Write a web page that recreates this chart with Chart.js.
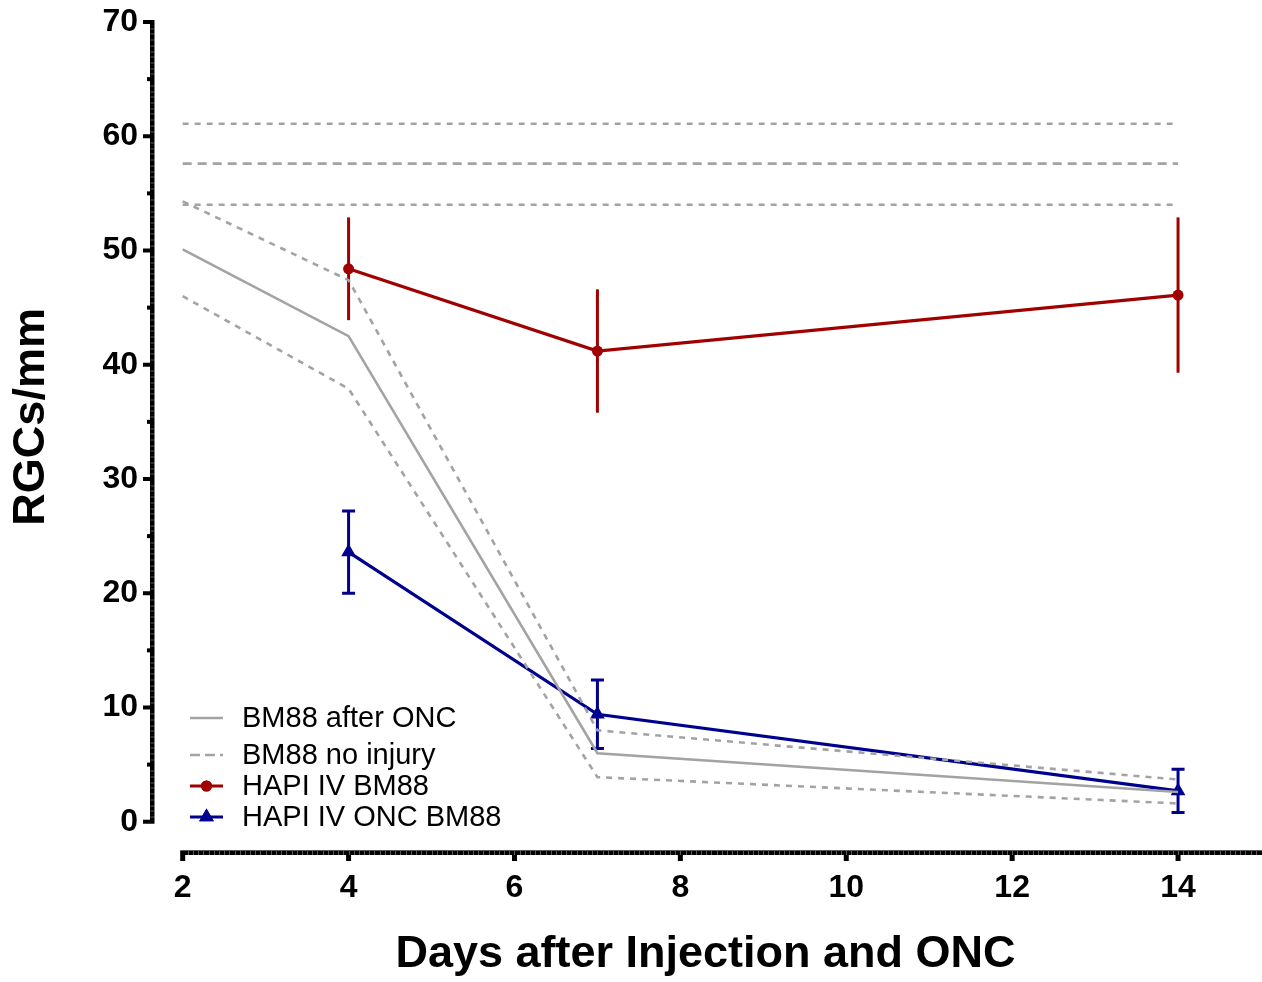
<!DOCTYPE html>
<html>
<head>
<meta charset="utf-8">
<title>RGCs/mm</title>
<script src="https://cdn.jsdelivr.net/npm/chart.js@4.4.1/dist/chart.umd.min.js"></script>
<style>
  html, body { margin: 0; padding: 0; background: #ffffff; overflow: hidden; }
  #chart { display: block; }
</style>
</head>
<body>
<canvas id="chart" width="1262" height="982"></canvas>
<script>
// ---- data ----
const days = [2, 4, 7, 14];
const afterOncMean  = [50.1, 42.5, 6.0, 2.6];
const afterOncUpper = [54.3, 47.4, 8.0, 3.7];
const afterOncLower = [46.0, 37.9, 3.9, 1.6];

const noInjuryDays  = [2, 14];
const noInjuryMean  = [57.6, 57.6];
const noInjuryUpper = [61.1, 61.1];
const noInjuryLower = [54.0, 54.0];

const hapiDays      = [4, 7, 14];
const hapiMean      = [48.4, 41.2, 46.1];
const hapiErr       = [4.5, 5.4, 6.8];
const hapiOncMean   = [23.6, 9.4, 2.7];
const hapiOncErr    = [3.6, 3.0, 1.9];

const xTickValues = [2, 4, 6, 8, 10, 12, 14];
const yTickValues = [0, 10, 20, 30, 40, 50, 60, 70];

// ---- styles ----
const FONT = '"Liberation Sans", Arial, Helvetica, sans-serif';
const GRAY = '#a3a3a3';
const RED = '#a10000';
const BLUE = '#00008f';
const SHORT_DASH = [6, 6];
const LONG_DASH = [9, 6];

const pts = (xs, ys) => xs.map((x, i) => ({ x: x, y: ys[i] }));

const datasets = [
  { label: 'BM88 after ONC', data: pts(days, afterOncMean), borderColor: GRAY, borderWidth: 2.6,
    pointRadius: 0, showInLegend: true },
  { label: 'BM88 after ONC +SD', data: pts(days, afterOncUpper), borderColor: GRAY, borderWidth: 2.6,
    borderDash: SHORT_DASH, pointRadius: 0 },
  { label: 'BM88 after ONC -SD', data: pts(days, afterOncLower), borderColor: GRAY, borderWidth: 2.6,
    borderDash: SHORT_DASH, pointRadius: 0 },
  { label: 'BM88 no injury', data: pts(noInjuryDays, noInjuryMean), borderColor: GRAY, borderWidth: 2.6,
    borderDash: LONG_DASH, pointRadius: 0, showInLegend: true },
  { label: 'BM88 no injury +SD', data: pts(noInjuryDays, noInjuryUpper), borderColor: GRAY, borderWidth: 2.6,
    borderDash: SHORT_DASH, pointRadius: 0 },
  { label: 'BM88 no injury -SD', data: pts(noInjuryDays, noInjuryLower), borderColor: GRAY, borderWidth: 2.6,
    borderDash: SHORT_DASH, pointRadius: 0 },
  { label: 'HAPI IV BM88', data: pts(hapiDays, hapiMean), borderColor: RED, backgroundColor: RED,
    borderWidth: 3.2, pointStyle: 'circle', pointRadius: 5.5, pointBorderWidth: 0,
    errors: hapiErr, capWidth: 0, showInLegend: true },
  { label: 'HAPI IV ONC BM88', data: pts(hapiDays, hapiOncMean), borderColor: BLUE, backgroundColor: BLUE,
    borderWidth: 3.2, pointStyle: 'triangle', pointRadius: 8.5, pointBorderWidth: 0,
    errors: hapiOncErr, capWidth: 13, showInLegend: true }
];

// vertical error bars, optional caps
const errorBars = {
  id: 'errorBars',
  beforeDatasetsDraw(chart) {
    const { ctx, scales: { x, y } } = chart;
    chart.data.datasets.forEach(ds => {
      if (!ds.errors) return;
      ctx.save();
      ctx.strokeStyle = ds.borderColor;
      ctx.lineWidth = 3;
      ds.data.forEach((p, j) => {
        const e = ds.errors[j];
        const px = x.getPixelForValue(p.x);
        const top = y.getPixelForValue(p.y + e);
        const bot = y.getPixelForValue(p.y - e);
        ctx.beginPath();
        ctx.moveTo(px, top);
        ctx.lineTo(px, bot);
        if (ds.capWidth) {
          const h = ds.capWidth / 2;
          ctx.moveTo(px - h, top); ctx.lineTo(px + h, top);
          ctx.moveTo(px - h, bot); ctx.lineTo(px + h, bot);
        }
        ctx.stroke();
      });
      ctx.restore();
    });
  }
};

// offset axes with minor-tick texture, y title, legend inside plot
const frame = {
  id: 'frame',
  afterDraw(chart) {
    const { ctx, chartArea, scales: { x, y } } = chart;
    ctx.save();
    ctx.fillStyle = '#000';

    // y axis
    const yTop = y.getPixelForValue(70), yBot = y.getPixelForValue(0);
    const ax = chartArea.left;
    ctx.fillRect(ax, yTop - 2, 4.5, yBot - yTop + 4);
    ctx.fillStyle = 'rgba(255,255,255,0.35)';
    for (let v = 0.5; v < 70; v += 0.5) {
      if (v % 5 === 0) continue;
      const py = Math.round(y.getPixelForValue(v)) + 0.5;
      ctx.fillRect(ax + 0.5, py, 4, 1);
    }
    ctx.fillStyle = '#000';
    for (let v = 0; v <= 70; v += 5) {
      const py = y.getPixelForValue(v);
      const len = v % 10 === 0 ? 7 : 3;
      ctx.fillRect(ax - len, py - 2, len, 4);
    }

    // x axis
    const xL = x.getPixelForValue(2), xR = chartArea.right + 1;
    const by = chartArea.bottom;
    ctx.fillRect(xL - 2.5, by - 2, xR - xL + 2.5, 5);
    ctx.fillStyle = 'rgba(255,255,255,0.35)';
    ctx.fillRect(xL - 2.5, by - 2, xR - xL + 2.5, 1);
    for (let v = 2 + 1 / 16; v < 15; v += 1 / 16) {
      const px = Math.round(x.getPixelForValue(v));
      ctx.fillRect(px, by - 1, 1, 4);
    }
    ctx.fillStyle = '#000';
    xTickValues.forEach(v => {
      const px = x.getPixelForValue(v);
      ctx.fillRect(px - 2.5, by + 3, 5, 6);
    });

    // y title
    ctx.save();
    ctx.translate(32, (yTop + yBot) / 2 - 5);
    ctx.rotate(-Math.PI / 2);
    ctx.font = 'bold 45px ' + FONT;
    ctx.textAlign = 'center';
    ctx.textBaseline = 'middle';
    ctx.fillText('RGCs/mm', 0, 0);
    ctx.restore();

    // legend
    const rows = [718, 755, 786, 817];
    const items = chart.data.datasets.filter(d => d.showInLegend);
    ctx.font = '29px ' + FONT;
    ctx.textBaseline = 'middle';
    ctx.textAlign = 'left';
    items.forEach((ds, i) => {
      const ry = rows[i];
      ctx.save();
      ctx.strokeStyle = ds.borderColor;
      ctx.lineWidth = ds.borderWidth;
      ctx.setLineDash(ds.borderDash ? [10, 5] : []);
      ctx.beginPath();
      ctx.moveTo(190, ry);
      ctx.lineTo(223, ry);
      ctx.stroke();
      ctx.restore();
      if (ds.pointRadius > 0) {
        ctx.fillStyle = ds.backgroundColor;
        Chart.helpers.drawPoint(ctx, { pointStyle: ds.pointStyle, radius: ds.pointRadius, borderWidth: 0, rotation: 0 }, 206.5, ry);
        ctx.fill();
      }
      ctx.fillStyle = '#000';
      ctx.fillText(ds.label, 242, ry + 1);
    });
    ctx.restore();
  }
};

new Chart(document.getElementById('chart'), {
  type: 'line',
  data: { datasets: datasets },
  plugins: [errorBars, frame],
  options: {
    responsive: false,
    animation: false,
    layout: { autoPadding: false, padding: { top: 22, right: 1, bottom: 0, left: 0 } },
    plugins: { legend: { display: false }, tooltip: { enabled: false } },
    elements: { line: { tension: 0, fill: false } },
    scales: {
      x: {
        type: 'linear',
        min: 1.606,
        max: 15,
        border: { display: false },
        grid: { display: false, drawTicks: false },
        afterBuildTicks: s => { s.ticks = xTickValues.map(v => ({ value: v })); },
        afterFit: s => { s.height = 130; s.paddingLeft = 0; s.paddingRight = 0; },
        ticks: { color: '#000', padding: 17, font: { family: FONT, size: 32, weight: 'bold' }, maxRotation: 0 },
        title: { display: true, text: 'Days after Injection and ONC', color: '#000',
                 font: { family: FONT, size: 45, weight: 'bold' }, padding: { top: 0, bottom: 0 } }
      },
      y: {
        type: 'linear',
        min: -2.65,
        max: 70,
        border: { display: false },
        grid: { display: false, drawTicks: false },
        afterBuildTicks: s => { s.ticks = yTickValues.map(v => ({ value: v })); },
        afterFit: s => { s.width = 150; s.paddingTop = 0; s.paddingBottom = 0; },
        ticks: { color: '#000', padding: 12, font: { family: FONT, size: 32, weight: 'bold' } },
        title: { display: false }
      }
    }
  }
});
</script>
</body>
</html>
